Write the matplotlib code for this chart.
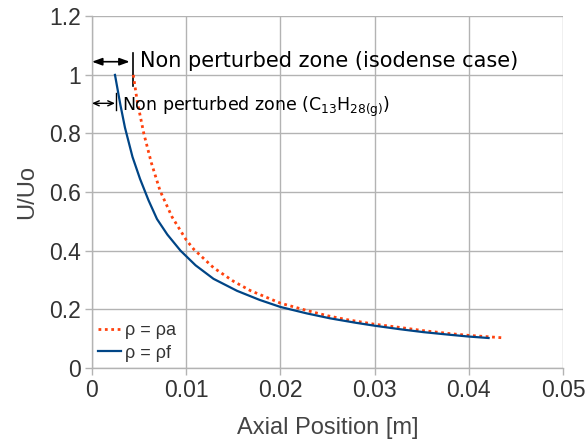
import matplotlib
matplotlib.use("Agg")
import matplotlib.pyplot as plt

# ---- data ----
x_fuel = [0.00244, 0.0030, 0.0035, 0.0043, 0.0051, 0.0060, 0.0069, 0.0080, 0.0094,
          0.0110, 0.0129, 0.0154, 0.0178, 0.0200, 0.0228, 0.0253, 0.0280, 0.0300,
          0.0327, 0.0352, 0.0380, 0.0400, 0.0421]
y_fuel = [1.0, 0.90, 0.82, 0.72, 0.645, 0.572, 0.508, 0.455, 0.40,
          0.35, 0.304, 0.263, 0.232, 0.208, 0.186, 0.169, 0.154, 0.144,
          0.132, 0.122, 0.113, 0.107, 0.102]

x_air = [0.00438, 0.0048, 0.0055, 0.0063, 0.00722, 0.0085, 0.0100, 0.0108, 0.0129,
         0.0150, 0.0168, 0.0200, 0.0228, 0.0250, 0.0270, 0.0300, 0.0327, 0.0352,
         0.0380, 0.0400, 0.0435]
y_air = [1.0, 0.91, 0.80, 0.70, 0.605, 0.515, 0.437, 0.405, 0.342,
         0.296, 0.264, 0.221, 0.196, 0.178, 0.165, 0.149, 0.138, 0.127,
         0.117, 0.111, 0.103]

label_air = "ρ = ρa"
label_fuel = "ρ = ρf"

x_ticks = [0, 0.01, 0.02, 0.03, 0.04, 0.05]
x_ticklabels = ["0", "0.01", "0.02", "0.03", "0.04", "0.05"]
y_ticks = [0, 0.2, 0.4, 0.6, 0.8, 1.0, 1.2]
y_ticklabels = ["0", "0.2", "0.4", "0.6", "0.8", "1", "1.2"]

xlabel = "Axial Position [m]"
ylabel = "U/Uo"
note_iso = "Non perturbed zone (isodense case)"
note_fuel = r"Non perturbed zone (C$_{\mathregular{13}}$H$_{\mathregular{28(g)}}$)"

# annotation geometry (data coords)
iso_arrow_y, iso_arrow_x1 = 1.045, 0.0040
iso_vline_x, iso_vline_y = 0.00435, (0.962, 1.075)
iso_text_xy = (0.00506, 1.028)
fuel_arrow_y, fuel_arrow_x1 = 0.903, 0.00244
fuel_vline_x, fuel_vline_y = 0.00255, (0.880, 0.938)
fuel_text_xy = (0.00321, 0.878)

# ---- figure ----
fig = plt.figure(figsize=(5.87, 4.44), dpi=100)
ax = fig.add_axes([92/587, 1-367.9/444, 471/587, 351.6/444])

grid_c = "#b3b3b3"
blue = "#004586"
red = "#ff420e"

ax.plot(x_air, y_air, color=red, lw=2.0, linestyle=(0, (1, 1.3)), label=label_air, zorder=3)
ax.plot(x_fuel, y_fuel, color=blue, lw=1.6, label=label_fuel, zorder=4)

ax.set_xlim(0, 0.05)
ax.set_ylim(0, 1.2)
ax.set_xticks(x_ticks)
ax.set_xticklabels(x_ticklabels)
ax.set_yticks(y_ticks)
ax.set_yticklabels(y_ticklabels)

for s in ["top", "right"]:
    ax.spines[s].set_visible(False)
for s in ["left", "bottom"]:
    ax.spines[s].set_color(grid_c)
    ax.spines[s].set_linewidth(1.0)
ax.grid(True, color=grid_c, lw=1.0)
ax.set_axisbelow(True)
ax.tick_params(axis="both", direction="out", length=5, width=1.0, color=grid_c,
               labelcolor="#333333", pad=3)
for lab in ax.get_xticklabels() + ax.get_yticklabels():
    lab.set_fontfamily("Liberation Sans")
    lab.set_fontsize(16.5)

ax.set_xlabel(xlabel, fontsize=17, family="Liberation Sans", color="#444444", labelpad=11)
ax.set_ylabel(ylabel, fontsize=17, family="Liberation Sans", color="#444444", labelpad=8)

# annotations
ax.annotate("", xy=(0, iso_arrow_y), xytext=(iso_arrow_x1, iso_arrow_y),
            arrowprops=dict(arrowstyle="<|-|>,head_length=0.6,head_width=0.22",
                            color="black", lw=1.2, shrinkA=0, shrinkB=0), annotation_clip=False)
ax.plot([iso_vline_x, iso_vline_x], list(iso_vline_y), color="black", lw=1.2, clip_on=False)
ax.text(iso_text_xy[0], iso_text_xy[1], note_iso, fontsize=15, family="DejaVu Sans",
        va="baseline", ha="left", color="black")

ax.annotate("", xy=(0, fuel_arrow_y), xytext=(fuel_arrow_x1, fuel_arrow_y),
            arrowprops=dict(arrowstyle="<->,head_length=0.4,head_width=0.18",
                            color="black", lw=1.0, shrinkA=0, shrinkB=0), annotation_clip=False)
ax.plot([fuel_vline_x, fuel_vline_x], list(fuel_vline_y), color="black", lw=1.0, clip_on=False)
ax.text(fuel_text_xy[0], fuel_text_xy[1], note_fuel, fontsize=12.5, family="DejaVu Sans",
        va="baseline", ha="left", color="black")

leg = ax.legend(loc="lower left", bbox_to_anchor=(0, 0), borderaxespad=0.0, borderpad=0.35,
                frameon=False, handlelength=1.25, handletextpad=0.25, labelspacing=0.3,
                prop={"family": "Liberation Sans", "size": 13})
for t in leg.get_texts():
    t.set_color("#333333")

fig.savefig("out.png", dpi=100)
